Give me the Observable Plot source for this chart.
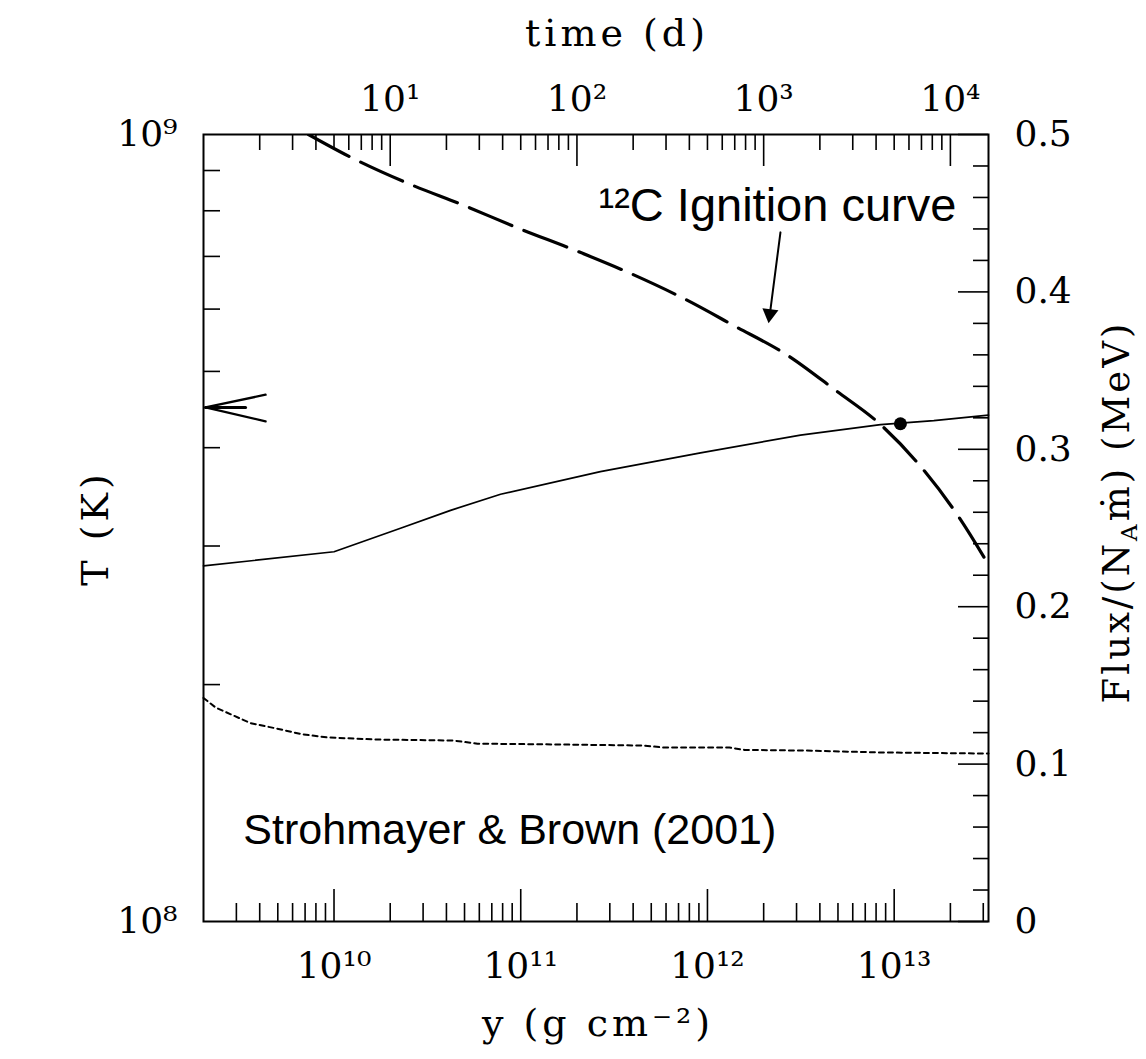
<!DOCTYPE html>
<html>
<head>
<meta charset="utf-8">
<script src="https://cdn.jsdelivr.net/npm/d3@7"></script>
<script src="https://cdn.jsdelivr.net/npm/@observablehq/plot@0.6"></script>
<style>
  html, body { margin: 0; padding: 0; background: #fff; }
</style>
</head>
<body>
<div id="chart"></div>
<script>
// ---------- data (column depth y in g cm^-2, temperature in K, flux in MeV) ----------
const ignitionColumn = [7.3e9, 1.27e10, 2.51e10, 4.94e10, 9.73e10, 1.97e11, 3.87e11, 7.45e11, 1.38e12, 2.69e12, 4.86e12, 8.45e12, 1.42e13, 2.21e13, 3.2e13];
const ignitionTemp   = [1.0e9, 9.32e8, 8.66e8, 8.13e8, 7.60e8, 7.12e8, 6.66e8, 6.19e8, 5.72e8, 5.24e8, 4.73e8, 4.28e8, 3.76e8, 3.27e8, 2.84e8];

const profileColumn = [2.0e9, 1.0e10, 2.27e10, 4.21e10, 7.80e10, 2.67e11, 9.18e11, 3.15e12, 8.45e12, 1.63e13, 3.2e13];
const profileTemp   = [2.83e8, 2.95e8, 3.16e8, 3.33e8, 3.49e8, 3.73e8, 3.94e8, 4.15e8, 4.28e8, 4.33e8, 4.40e8];

const fluxColumn = [2.0e9, 2.32e9, 3.57e9, 4.92e9, 6.70e9, 9.12e9, 1.69e10, 4.31e10, 5.87e10, 1.50e11, 4.55e11, 5.82e11, 1.31e12, 1.58e12, 3.35e12, 8.45e12, 3.2e13];
const fluxMeV    = [0.142, 0.136, 0.126, 0.1226, 0.119, 0.117, 0.1156, 0.115, 0.113, 0.1125, 0.1118, 0.1105, 0.1105, 0.109, 0.1086, 0.1074, 0.1067];

const ignitionPointColumn = [1.08e13];
const ignitionPointTemp   = [4.29e8];

// chevron marker at the left edge
const chevronColumn = [4.3e9, 2.05e9, 4.3e9];
const chevronTemp   = [4.67e8, 4.50e8, 4.32e8];
const chevronStemColumn = [2.05e9, 3.36e9];
const chevronStemTemp   = [4.50e8, 4.50e8];

// annotations
const annotationTexts  = ["¹²C Ignition curve", "Strohmayer & Brown (2001)"];
const annotationColumn = [2.61e11, 3.27e9];
const annotationTemp   = [8.125e8, 1.305e8];
const annotationSize   = [47, 43];
const pointerColumn = [2.46e12, 2.164e12];
const pointerTemp   = [7.51e8, 5.94e8];
const pointerHeadColumn = [2.157e12];
const pointerHeadTemp   = [5.916e8];

// axes: tick values and titles
const columnMajorTicks = [1e10, 1e11, 1e12, 1e13];
const timeMajorTicks   = [10, 100, 1000, 10000];
const tempLabelTicks   = [1e8, 1e9];
const fluxLabelTicks   = [0, 0.1, 0.2, 0.3, 0.4, 0.5];
const columnDomain = [2e9, 3.2e13];
const tempDomain   = [1e8, 1e9];
const fluxDomainMax = 0.5;
const dayToColumn = 2e9;  // time (d) = y / 2e9 g cm^-2
const titleTop = "time (d)";
const titleBottom = "y (g cm⁻²)";
const titleLeft = "T (K)";
const titleRight = "Flux/(N_Aṁ) (MeV)";

// ---------- helpers ----------
const SUP = {"0":"⁰","1":"¹","2":"²","3":"³","4":"⁴","5":"⁵","6":"⁶","7":"⁷","8":"⁸","9":"⁹","-":"⁻"};
const pow10Label = d => "10" + String(Math.round(Math.log10(d))).split("").map(c => SUP[c]).join("");
const fluxToT = f => tempDomain[0] * Math.pow(10, Math.log10(tempDomain[1] / tempDomain[0]) * f / fluxDomainMax);
const tToFlux = t => fluxDomainMax * Math.log10(t / tempDomain[0]) / Math.log10(tempDomain[1] / tempDomain[0]);
const fluxFormat = f => { const r = Math.round(f * 10) / 10; return r === 0 ? "0" : r.toFixed(1); };
function minorLog(lo, hi) {
  const out = [];
  for (let e = Math.floor(Math.log10(lo)); e <= Math.ceil(Math.log10(hi)); e++)
    for (let m = 2; m <= 9; m++) { const v = m * Math.pow(10, e); if (v > lo * 1.0001 && v < hi * 0.9999) out.push(v); }
  return out;
}

const W = 1146, H = 1059;
const mL = 203, mR = 158, mT = 134, mB = 138;
const innerW = W - mL - mR, innerH = H - mT - mB;

const columnMinor = minorLog(columnDomain[0], columnDomain[1]);
const timeMinor = minorLog(columnDomain[0] / dayToColumn, columnDomain[1] / dayToColumn).map(t => t * dayToColumn);
const tempMinor = minorLog(tempDomain[0], tempDomain[1]);
const fluxMinor = d3.range(0, 51).filter(i => i % 2 === 0 && i % 10 !== 0).map(i => fluxToT(i / 100));
const fluxMajor = fluxLabelTicks.map(fluxToT);

const ignition = ignitionColumn.map((c, i) => ({c, T: ignitionTemp[i]}));
const profile  = profileColumn.map((c, i) => ({c, T: profileTemp[i]}));
const flux     = fluxColumn.map((c, i) => ({c, T: fluxToT(fluxMeV[i])}));

const svg = Plot.plot({
  width: W, height: H,
  marginLeft: mL, marginRight: mR, marginTop: mT, marginBottom: mB,
  style: {fontFamily: "DejaVu Serif", fontSize: "36px", background: "white", color: "black"},
  x: {type: "log", domain: columnDomain},
  y: {type: "log", domain: tempDomain},
  marks: [
    // tick marks (inward)
    Plot.tickX(columnMajorTicks, {x: d => d, insetTop: innerH - 32, strokeWidth: 1.6}),
    Plot.tickX(columnMinor, {x: d => d, insetTop: innerH - 18, strokeWidth: 1.6}),
    Plot.tickX(timeMajorTicks.map(t => t * dayToColumn), {x: d => d, insetBottom: innerH - 32, strokeWidth: 1.6}),
    Plot.tickX(timeMinor, {x: d => d, insetBottom: innerH - 16, strokeWidth: 1.6}),
    Plot.tickY(tempMinor, {y: d => d, insetRight: innerW - 17, strokeWidth: 1.6}),
    Plot.tickY(fluxMajor, {y: d => d, insetLeft: innerW - 30, strokeWidth: 1.6}),
    Plot.tickY(fluxMinor, {y: d => d, insetLeft: innerW - 15, strokeWidth: 1.6}),
    // tick labels
    Plot.axisX({anchor: "bottom", ticks: columnMajorTicks, tickFormat: pow10Label, tickSize: 0, tickPadding: 31, label: null}),
    Plot.axisX({anchor: "top", ticks: timeMajorTicks.map(t => t * dayToColumn), tickFormat: d => pow10Label(d / dayToColumn), tickSize: 0, tickPadding: 24, label: null}),
    Plot.axisY({anchor: "left", ticks: tempLabelTicks, tickFormat: pow10Label, tickSize: 0, tickPadding: 26, label: null}),
    Plot.axisY({anchor: "right", ticks: fluxMajor, tickFormat: t => fluxFormat(tToFlux(t)), tickSize: 0, tickPadding: 26, label: null}),
    // axis titles
    Plot.text([titleTop], {text: d => d, frameAnchor: "top", textAnchor: "middle", dx: 21, dy: -89, lineAnchor: "bottom", fontSize: 38}),
    Plot.text([titleBottom], {text: d => d, frameAnchor: "bottom", textAnchor: "middle", dx: 2, dy: 114, lineAnchor: "bottom", fontSize: 38}),
    Plot.text([titleLeft], {text: d => d, frameAnchor: "left", textAnchor: "middle", dx: -108, rotate: -90, fontSize: 38}),
    Plot.text([titleRight], {text: d => d, frameAnchor: "right", textAnchor: "middle", dx: 129, dy: -16, rotate: -90, fontSize: 37}),
    // data
    Plot.line(flux, {x: "c", y: "T", stroke: "black", strokeWidth: 2, strokeDasharray: "5,4"}),
    Plot.line(profile, {x: "c", y: "T", stroke: "black", strokeWidth: 1.7}),
    Plot.line(ignition, {x: "c", y: "T", stroke: "black", strokeWidth: 3.2, strokeDasharray: "46,13", curve: "monotone-x", clip: true}),
    Plot.dot(ignitionPointColumn, {x: d => d, y: (d, i) => ignitionPointTemp[i], r: 6.5, fill: "black", stroke: null}),
    Plot.line(chevronColumn, {x: d => d, y: (d, i) => chevronTemp[i], stroke: "black", strokeWidth: 2.3}),
    Plot.line(chevronStemColumn, {x: d => d, y: (d, i) => chevronStemTemp[i], stroke: "black", strokeWidth: 3}),
    // annotations
    Plot.line(pointerColumn, {x: d => d, y: (d, i) => pointerTemp[i], stroke: "black", strokeWidth: 2}),
    Plot.dot(pointerHeadColumn, {x: d => d, y: (d, i) => pointerHeadTemp[i], symbol: "triangle", r: 6, rotate: 187.6, fill: "black", stroke: null}),
    Plot.text([annotationTexts[0]], {x: [annotationColumn[0]], y: [annotationTemp[0]], text: d => d, textAnchor: "start", fontFamily: "Liberation Sans, Arial, sans-serif", fontSize: annotationSize[0], fill: "black"}),
    Plot.text([annotationTexts[1]], {x: [annotationColumn[1]], y: [annotationTemp[1]], text: d => d, textAnchor: "start", fontFamily: "Liberation Sans, Arial, sans-serif", fontSize: annotationSize[1], fill: "black"}),
    Plot.frame({stroke: "black", strokeWidth: 2})
  ]
});

// typography touches: letter spacing on titles, subscript A on the flux title
d3.select(svg).selectAll("text").each(function () {
  const t = this.textContent;
  if ([titleTop, titleBottom, titleLeft].includes(t)) this.setAttribute("letter-spacing", "4px");
  if (t === titleRight) {
    this.setAttribute("letter-spacing", "3px");
    const [a, rest] = t.split("_A");
    this.textContent = "";
    const s = d3.select(this);
    s.append("tspan").text(a);
    s.append("tspan").attr("font-size", 23).attr("dy", 8).text("A");
    s.append("tspan").attr("dy", -8).text(rest);
  }
});

document.getElementById("chart").appendChild(svg);
</script>
</body>
</html>
